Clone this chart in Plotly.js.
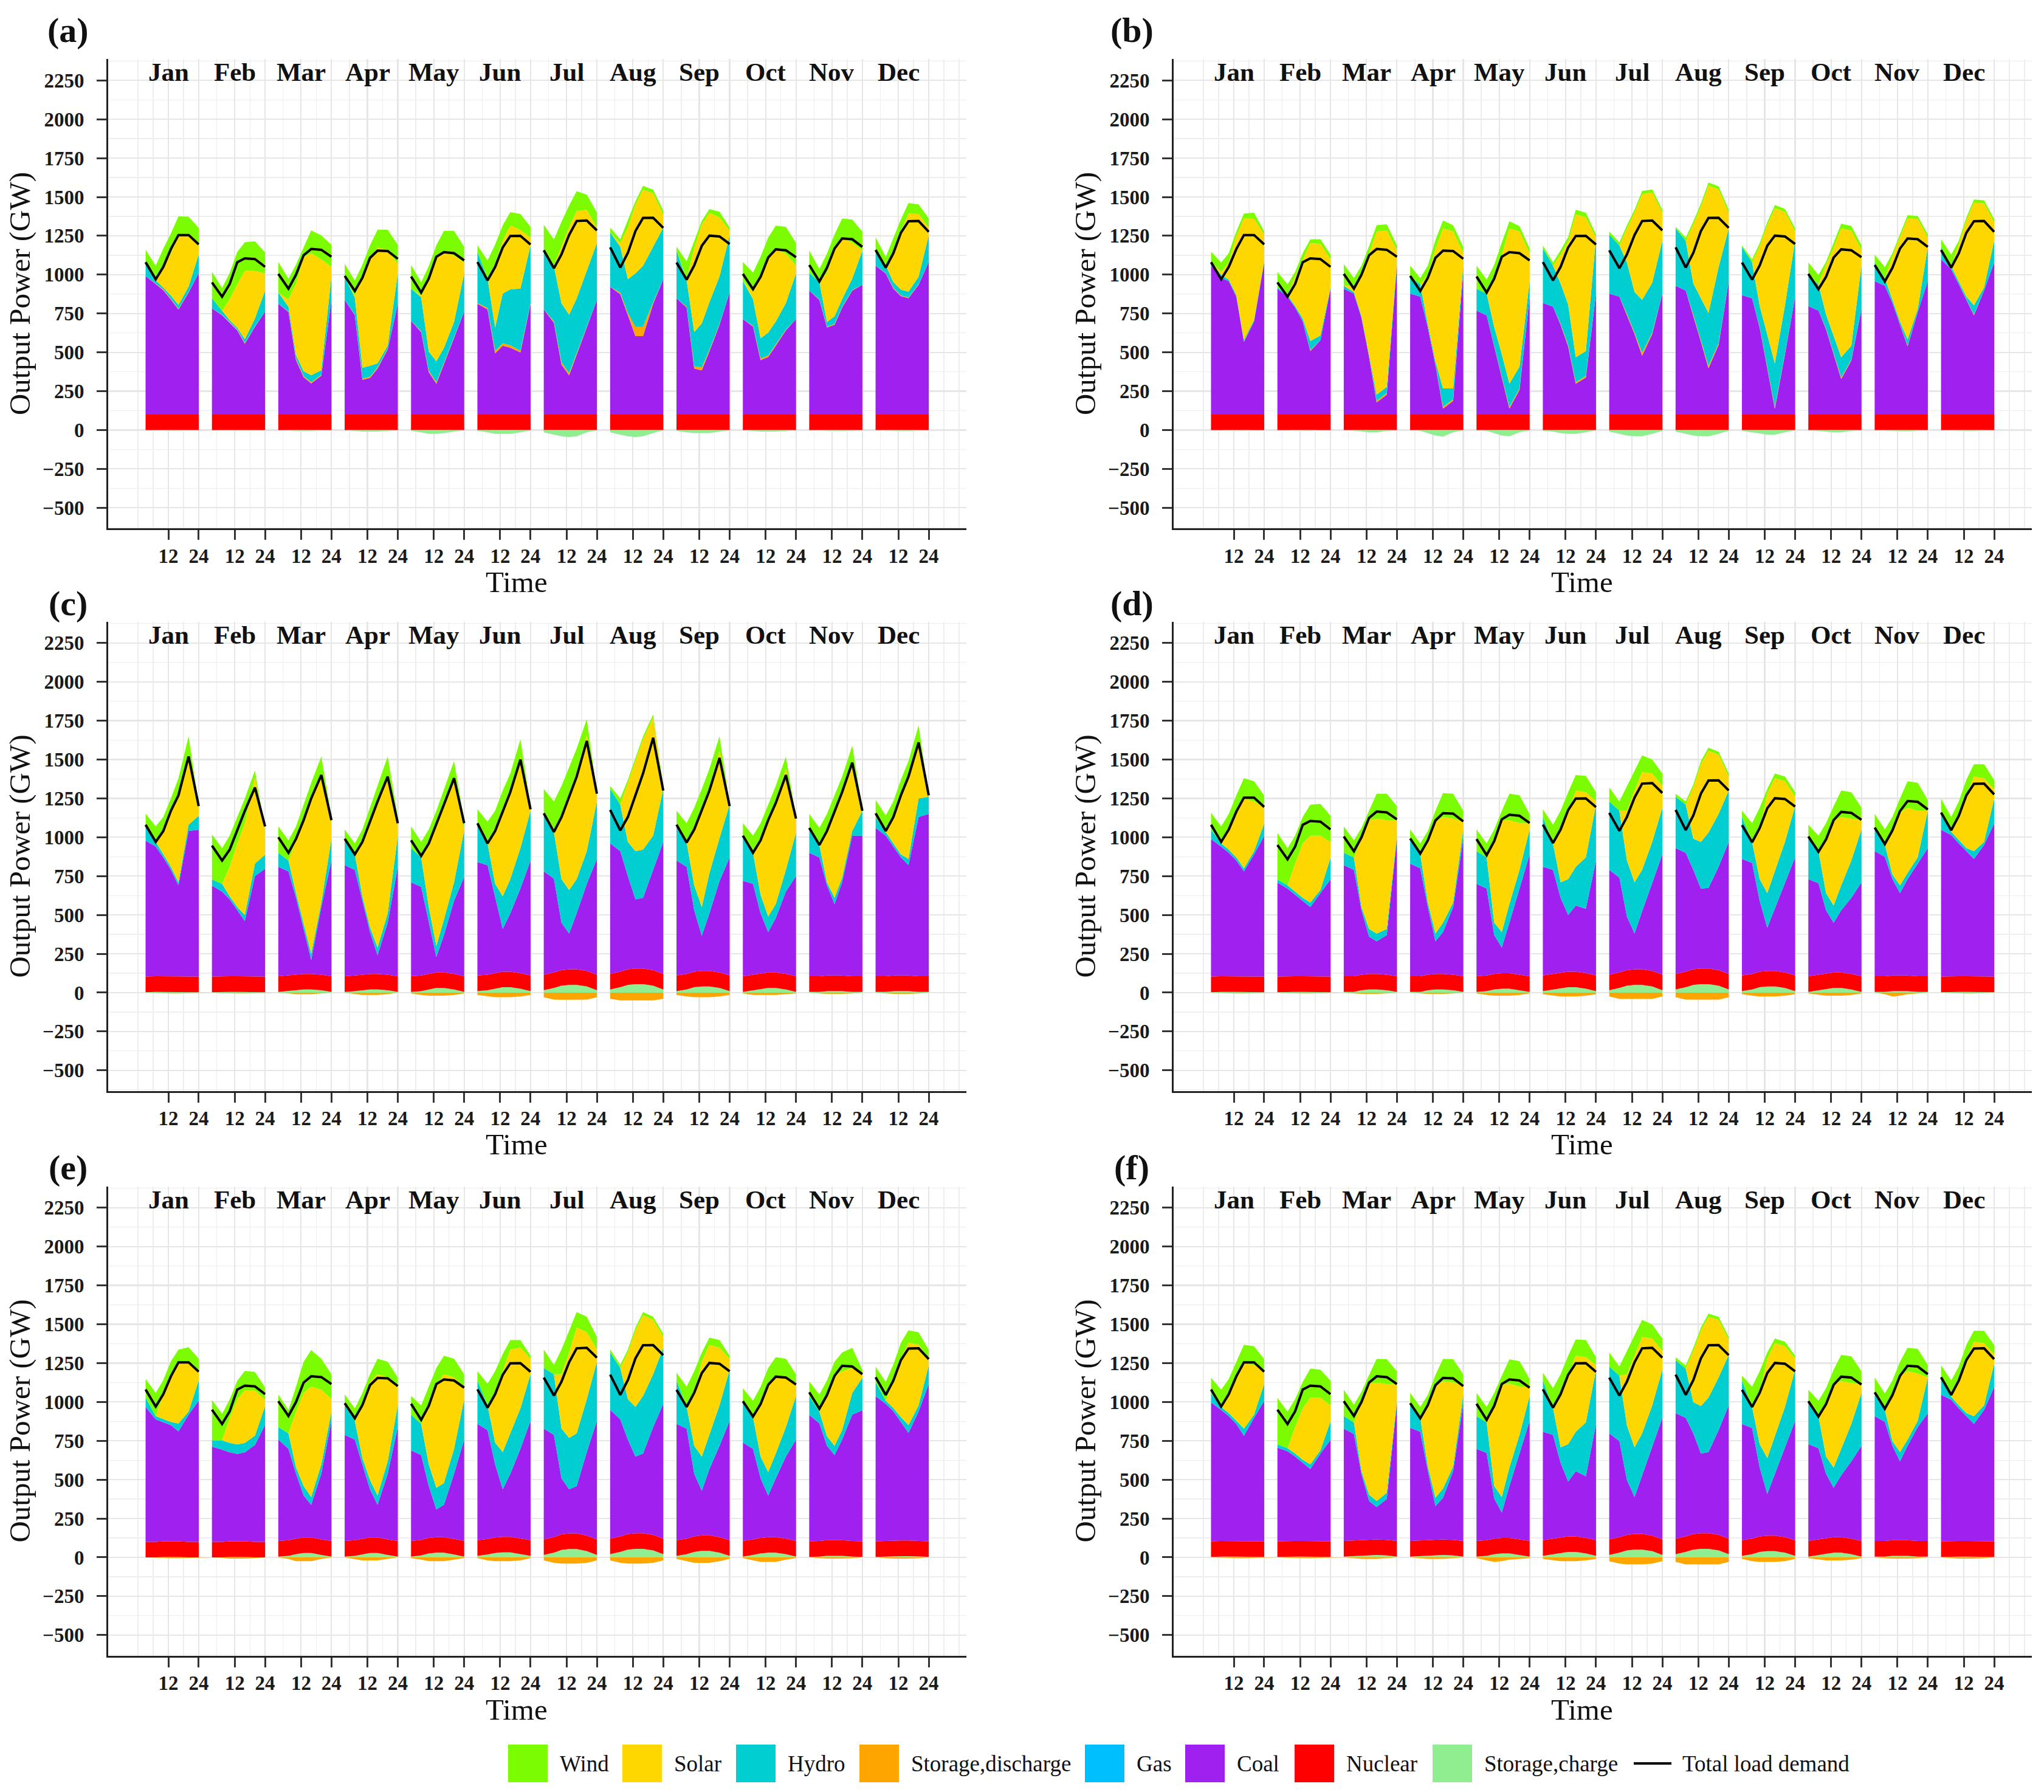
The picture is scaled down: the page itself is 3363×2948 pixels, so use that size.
<!DOCTYPE html>
<html>
<head>
<meta charset="utf-8">
<script src="https://cdn.plot.ly/plotly-3.0.1.min.js"></script>
<style>html,body{margin:0;padding:0;background:#fff;}#chart{width:3363px;height:2948px;}</style>
</head>
<body>
<div id="chart"></div>
<script>
// ---------------- DATA (GW), sampled hours of a typical day per month ----------------
const MONTHS = ['Jan','Feb','Mar','Apr','May','Jun','Jul','Aug','Sep','Oct','Nov','Dec'];
const HOURS = [3, 7, 10, 13, 16, 20, 24];
const PANEL_LABELS = ['(a)','(b)','(c)','(d)','(e)','(f)'];

// Total load demand (same demand in a, b, d, e, f; scenario c has a peakier demand)
const loadStd = [
[1080,970,1050,1165,1255,1255,1195],[950,858,940,1080,1105,1100,1050],[1005,910,1000,1125,1165,1160,1115],
[992,895,980,1108,1155,1152,1102],[988,885,975,1115,1145,1138,1092],[1081,963,1050,1175,1249,1250,1194],
[1157,1041,1131,1255,1345,1348,1285],[1176,1046,1140,1281,1365,1366,1301],[1078,968,1059,1186,1251,1246,1197],
[1005,906,986,1110,1163,1157,1112],[1062,956,1044,1168,1233,1228,1179],[1159,1045,1137,1270,1344,1345,1276]];
const loadC = [
[1080,970,1040,1170,1270,1520,1200],[946,850,920,1050,1170,1320,1070],[1000,900,990,1110,1250,1400,1110],
[990,890,970,1100,1230,1390,1090],[980,880,960,1090,1210,1380,1090],[1090,960,1040,1170,1290,1500,1180],
[1154,1034,1130,1260,1390,1620,1280],[1176,1044,1130,1270,1410,1640,1300],[1080,966,1050,1170,1300,1510,1200],
[1010,900,980,1110,1220,1400,1120],[1060,950,1040,1170,1290,1480,1170],[1154,1040,1130,1270,1390,1610,1270]];

// Nuclear (flat over the day) and gas (not visible) per month
const nuclearA = [100,100,100,100,100,100,100,100,100,100,100,100];
const nuclearB = [100,100,100,100,100,100,100,100,100,100,100,100];
const nuclearC = [100,100,100,100,100,100,100,100,100,100,100,100];
const nuclearD = [100,100,100,100,100,100,100,100,100,100,100,100];
const nuclearE = [100,100,100,100,100,100,100,100,100,100,100,100];
const nuclearF = [100,100,100,100,100,100,100,100,100,100,100,100];
const gasMonthly = [0,0,0,0,0,0,0,0,0,0,0,0];

// ---- panel (a)
const coalA = [
[890,840,800,740,675,785,910],[683,639,590,541,455,565,663],[712,660,350,240,200,250,740],[737,640,223,235,296,419,712],
[602,530,272,198,321,492,663],[712,676,394,443,430,400,712],[676,590,321,252,385,561,737],[822,774,639,504,504,712,871],
[749,688,296,284,406,578,786],[614,566,350,370,443,541,614],[798,737,560,578,688,798,835],[957,908,810,761,749,835,982]];
const hydroA = [
[80,20,12,20,25,35,120],[66,24,12,12,25,50,135],[73,30,25,30,45,30,150],[147,110,70,70,25,20,196],
[208,220,122,135,98,98,245],[330,190,150,320,360,400,370],[391,355,379,375,352,359,367],[350,295,217,344,393,357,331],
[306,172,220,282,306,306,367],[245,171,130,147,147,171,294],[112,112,30,49,49,73,220],[86,49,37,37,37,49,171]];
const solarA = [
[0,15,140,270,450,330,60],[0,0,135,280,440,306,110],[0,47,460,736,785,712,60],[0,10,590,690,745,615,60],
[0,10,465,685,616,428,70],[0,0,413,341,412,377,50],[0,0,367,563,563,392,98],[0,24,331,441,490,343,85],
[0,10,539,636,575,379,30],[0,49,404,489,465,318,49],[0,0,318,428,391,233,0],[0,0,196,379,501,403,49]];
const windA = [
[90,80,110,130,120,120,110],[170,147,170,208,184,190,135],[196,134,122,61,147,156,142],[85,99,73,85,115,130,124],
[152,86,86,61,137,159,101],[42,115,122,98,85,103,70],[154,171,159,139,127,98,98],[30,25,49,24,24,25,25],
[24,110,49,24,25,37,20],[122,122,122,122,152,172,147],[145,84,122,98,128,147,122],[98,54,85,74,69,62,61]];
const chargeA = [
[0,-2,-3,-3,-3,-2,0],[0,-2,-3,-3,-3,-2,0],[0,-2,-5,-5,-5,-2,0],[0,-5,-10,-10,-10,-5,0],
[-5,-15,-25,-25,-20,-10,0],[-5,-15,-25,-25,-25,-15,0],[-15,-30,-40,-45,-40,-15,0],[-15,-30,-40,-45,-40,-20,0],
[-5,-15,-20,-20,-20,-10,0],[0,-5,-10,-10,-10,-5,0],[0,-3,-5,-5,-5,-3,0],[0,-3,-5,-5,-5,-3,0]];
const dischargeA = [
[0,3,5,5,5,3,0],[0,3,5,5,5,3,0],[0,3,8,8,8,5,0],[0,3,8,8,8,5,0],
[0,5,10,10,10,5,0],[5,10,15,15,15,10,5],[0,10,15,15,10,5,0],[0,10,15,60,60,10,0],
[0,5,15,20,10,5,0],[0,5,10,10,8,5,0],[0,3,5,5,5,3,0],[0,3,5,5,5,3,0]];

// ---- panel (b)
const coalB = [
[958,878,858,758,468,598,978],[808,758,688,598,408,478,808],[808,778,622,370,78,128,958],[778,758,558,318,38,88,918],
[668,638,438,238,38,158,758],[718,694,578,438,198,238,778],[778,758,638,518,378,518,778],[828,798,638,468,298,448,858],
[768,748,558,298,38,388,758],[698,668,548,388,228,348,678],[858,828,718,578,438,658,858],[998,934,838,738,638,798,978]];
const hydroB = [
[24,20,10,10,10,10,10],[10,10,10,20,60,30,10],[20,10,10,10,40,40,20],[110,80,20,20,120,70,40],
[140,140,120,140,150,140,100],[350,264,260,260,160,160,360],[380,330,330,260,340,320,340],[370,320,200,270,340,490,340],
[310,230,136,210,280,310,360],[200,170,90,110,130,90,280],[120,50,20,20,40,20,220],[80,20,20,20,60,20,140]];
const solarB = [
[0,20,110,380,780,650,170],[0,0,190,380,630,590,180],[0,40,286,648,1050,1006,80],[0,0,320,720,1030,1010,80],
[0,0,330,640,1000,870,180],[0,0,184,404,920,860,0],[0,0,220,510,680,580,180],[0,0,380,590,820,500,100],
[0,0,384,700,1000,600,60],[0,0,320,570,830,740,100],[0,0,280,540,780,580,60],[0,0,240,490,660,540,120]];
const windB = [
[66,60,60,30,30,40,20],[100,70,30,40,24,30,30],[140,50,40,50,40,40,30],[70,40,60,60,50,40,40],
[150,90,70,80,46,34,30],[20,20,30,30,30,30,20],[20,20,20,20,20,20,20],[10,20,20,20,20,20,20],
[10,20,20,20,20,20,20],[80,60,20,30,30,30,30],[50,70,20,20,20,20,20],[50,74,20,20,20,20,20]];
const chargeB = [
[0,0,-3,-3,-3,0,0],[0,0,-3,-3,-3,0,0],[0,-3,-10,-15,-15,-5,0],[0,-5,-20,-35,-42,-15,0],
[0,-5,-20,-35,-40,-15,0],[-5,-10,-20,-25,-25,-15,0],[-10,-25,-35,-40,-40,-25,-5],[-10,-25,-35,-40,-40,-25,-5],
[-5,-15,-25,-30,-30,-15,0],[0,-5,-10,-15,-15,-5,0],[0,-3,-5,-8,-8,-3,0],[0,-3,-5,-5,-5,-3,0]];
const dischargeB = [
[0,0,0,0,5,0,0],[0,0,0,0,5,0,0],[0,0,0,5,10,10,0],[0,0,0,5,10,10,0],
[0,0,5,10,10,10,0],[0,0,5,10,10,10,0],[0,0,10,10,20,10,0],[0,0,5,10,15,10,0],
[0,0,5,10,10,5,0],[0,0,5,5,10,5,0],[0,0,0,0,5,0,0],[0,0,0,0,5,0,0]];

// ---- panel (c)
const coalC = [
[875,835,765,685,585,935,945],[585,545,495,425,355,645,695],[705,670,495,290,90,435,745],[715,680,475,270,120,335,705],
[605,570,330,100,240,470,640],[730,705,485,275,375,545,740],[665,604,305,230,360,560,745],[840,775,600,445,455,645,850],
[740,690,395,226,370,588,760],[615,585,385,260,350,530,645],[795,765,580,460,600,905,905],[955,905,830,760,710,1025,1045]];
const hydroC = [
[100,30,20,20,20,40,90],[40,50,20,20,40,80,90],[90,70,30,30,40,30,140],[160,100,30,30,50,60,200],
[220,190,100,70,100,120,300],[250,140,90,210,220,260,320],[374,300,280,280,220,210,370],[350,300,220,310,310,220,340],
[230,156,160,184,258,276,340],[290,200,120,100,90,140,280],[150,80,20,40,30,30,160],[70,20,20,20,40,120,110]];
const solarC = [
[0,0,150,360,570,430,50],[0,0,190,410,590,560,150],[0,0,340,670,1000,820,100],[0,0,350,680,940,880,80],
[0,0,410,790,730,650,0],[0,0,360,570,580,590,10],[0,0,400,610,690,750,40],[0,0,380,580,710,760,0],
[0,0,360,640,552,566,0],[0,0,350,620,670,650,90],[0,0,330,560,550,440,0],[0,0,170,380,530,360,0]];
const windC = [
[74,100,90,80,100,140,20],[290,230,200,170,160,40,10],[170,130,90,100,100,120,40],[70,70,80,90,100,130,40],
[140,100,90,80,110,130,60],[90,140,110,110,100,110,20],[156,196,200,180,150,100,20],[20,40,20,20,20,20,20],
[90,124,140,120,120,90,10],[80,110,110,100,90,80,10],[100,110,110,100,100,110,10],[110,110,100,100,100,110,10]];
const chargeC = [
[3,5,5,5,5,5,3],[3,5,5,5,5,5,3],[5,10,15,20,20,15,5],[5,10,15,20,20,15,5],
[5,10,20,30,30,20,5],[10,15,25,35,35,25,10],[15,30,45,50,50,40,15],[20,35,50,55,55,45,20],
[10,20,35,40,40,30,10],[5,15,25,30,30,20,5],[5,5,10,10,10,5,5],[5,5,10,10,10,5,5]];
const dischargeC = [
[0,-3,-5,-5,-5,-3,0],[0,-3,-5,-5,-5,-3,0],[0,-5,-10,-10,-10,-5,0],[0,-10,-15,-15,-15,-10,0],
[-5,-15,-20,-20,-20,-15,-5],[-15,-25,-30,-30,-30,-25,-15],[-30,-45,-46,-46,-46,-45,-30],[-40,-50,-50,-50,-50,-50,-40],
[-15,-25,-30,-30,-30,-25,-15],[-5,-15,-15,-15,-15,-10,-5],[0,-5,-8,-8,-8,-5,0],[0,-5,-8,-8,-8,-5,0]];

// ---- panel (d)
const coalD = [
[885,835,795,745,675,785,905],[605,565,525,485,445,535,625],[715,685,415,240,210,255,885],[725,695,435,210,270,435,885],
[595,560,250,165,325,555,785],[700,670,480,365,425,415,740],[675,610,345,230,374,566,775],[810,765,640,515,519,665,850],
[750,714,455,278,404,576,760],[625,589,405,320,400,490,605],[805,769,620,530,620,725,825],[945,909,855,805,755,845,985]];
const hydroD = [
[60,20,20,20,20,20,80],[20,20,20,20,30,20,140],[80,80,20,50,50,40,20],[150,90,30,50,60,30,60],
[210,200,80,100,120,120,160],[320,170,100,230,250,330,360],[440,430,360,330,266,264,300],[330,310,200,300,356,340,330],
[270,136,140,222,236,264,330],[260,206,110,110,160,240,340],[140,80,30,50,40,40,240],[100,20,20,20,50,20,160]];
const solarD = [
[0,0,120,290,450,320,100],[0,0,180,350,430,350,100],[0,0,440,700,740,700,100],[0,0,394,720,680,540,50],
[0,0,520,716,540,300,40],[0,0,330,430,490,420,20],[0,0,320,590,630,440,140],[0,0,330,500,526,380,90],
[0,0,320,640,600,390,60],[0,0,340,546,440,270,60],[0,0,280,470,420,300,0],[0,0,150,340,480,410,60]];
const windD = [
[110,110,110,110,130,130,80],[300,240,180,170,200,204,170],[170,110,70,60,160,170,90],[70,70,66,70,154,160,70],
[140,90,80,64,170,180,60],[50,120,130,130,100,104,60],[90,60,160,130,106,90,80],[20,20,20,20,20,20,20],
[40,120,140,30,30,30,30],[90,100,110,94,170,170,80],[100,96,90,90,170,180,70],[100,96,100,100,80,90,60]];
const chargeD = [
[3,5,5,5,5,5,3],[3,5,5,5,5,5,3],[5,5,15,20,20,15,5],[5,5,15,20,20,15,5],
[5,10,20,25,25,15,5],[10,20,30,35,35,25,10],[15,30,45,50,50,40,15],[20,35,50,55,55,45,20],
[10,20,35,40,40,30,10],[5,15,25,30,30,20,5],[5,5,10,10,10,5,5],[3,5,5,5,5,5,3]];
const dischargeD = [
[0,-3,-5,-5,-5,-3,0],[0,-3,-5,-5,-5,-3,0],[0,-5,-8,-8,-8,-5,0],[0,-5,-8,-8,-8,-5,0],
[-5,-15,-20,-20,-20,-15,-5],[-10,-20,-25,-25,-25,-20,-10],[-25,-40,-40,-40,-40,-40,-25],[-30,-45,-45,-45,-45,-45,-30],
[-10,-20,-25,-25,-25,-20,-10],[-5,-15,-20,-20,-20,-15,-5],[0,-10,-25,-20,-10,-5,0],[0,-3,-5,-5,-5,-3,0]];

// ---- panel (e)
const coalE = [
[868,788,768,748,708,818,908],[613,593,573,563,573,623,753],[653,588,418,270,210,423,773],[683,648,478,310,210,423,733],
[583,546,333,178,208,420,653],[748,700,470,306,406,576,768],[713,658,360,284,304,538,763],[828,753,608,493,513,693,868],
[748,708,403,286,426,588,768],[633,583,383,268,378,528,653],[813,757,608,548,648,813,843],[933,883,833,763,693,833,1013]];
const hydroE = [
[60,20,20,20,50,20,130],[40,60,60,60,60,60,120],[80,100,40,60,50,60,60],[190,120,40,60,60,80,140],
[230,200,140,140,140,160,260],[280,160,140,240,260,260,300],[390,390,320,330,340,340,380],[370,330,260,320,370,340,360],
[280,140,180,220,220,260,330],[264,204,140,150,160,190,280],[120,76,60,60,60,140,210],[90,20,20,30,50,40,120]];
const solarE = [
[0,0,160,310,400,310,60],[0,0,160,290,340,290,40],[0,0,360,600,710,480,80],[0,0,330,630,780,540,124],
[0,0,380,660,700,460,76],[0,0,310,520,540,390,100],[0,0,350,550,680,430,80],[0,0,300,490,520,350,70],
[0,0,340,610,580,370,70],[0,0,330,566,494,320,76],[0,0,260,450,380,160,20],[0,0,180,380,530,390,40]];
const windE = [
[120,150,90,80,76,104,80],[260,170,120,120,124,120,80],[210,150,160,200,236,200,160],[70,80,90,50,100,100,56],
[120,120,120,110,120,120,84],[60,140,150,110,60,50,20],[120,60,160,140,100,100,80],[20,20,20,20,20,20,20],
[50,130,140,60,46,50,20],[86,106,120,104,126,120,64],[96,110,100,90,120,130,30],[100,120,100,100,80,80,60]];
const chargeE = [
[0,0,3,3,3,0,0],[0,0,3,3,3,0,0],[5,10,20,28,28,15,5],[5,10,20,28,28,15,5],
[5,12,25,30,30,18,5],[10,18,28,32,32,22,10],[15,30,48,54,54,40,15],[20,35,50,55,55,45,20],
[10,20,35,42,42,30,10],[5,15,25,30,30,20,5],[3,5,10,10,10,5,3],[3,5,8,8,8,5,3]];
const dischargeE = [
[0,-3,-5,-5,-5,-3,0],[0,-3,-8,-8,-8,-5,0],[0,-10,-25,-25,-25,-10,0],[0,-10,-20,-20,-20,-10,0],
[-5,-15,-25,-25,-25,-15,-5],[-5,-20,-25,-25,-25,-20,-5],[-20,-35,-40,-40,-40,-35,-20],[-20,-35,-40,-40,-40,-35,-20],
[-10,-25,-35,-35,-35,-25,-10],[-5,-20,-30,-30,-30,-15,-5],[0,-5,-8,-8,-8,-5,0],[0,-5,-8,-8,-8,-5,0]];

// ---- panel (f)
const coalF = [
[893,843,803,753,677,793,903],[603,577,543,503,463,563,653],[723,686,423,248,208,263,883],[729,700,443,214,268,443,883],
[593,562,258,163,333,553,773],[698,668,478,353,419,397,748],[683,618,353,238,378,574,783],[808,763,648,513,523,673,858],
[748,712,443,268,398,578,768],[623,587,413,318,398,498,613],[803,767,608,508,608,733,823],[943,909,853,803,753,843,993]];
const hydroF = [
[60,20,20,20,46,20,110],[20,20,20,20,30,20,120],[80,74,20,40,40,40,20],[144,90,30,54,60,30,60],
[210,196,80,100,120,120,160],[330,174,100,240,254,346,350],[430,420,350,320,270,264,310],[340,316,200,306,350,340,324],
[280,136,150,230,240,260,330],[270,206,110,130,170,240,340],[140,76,30,60,40,40,230],[100,20,20,20,50,30,150]];
const solarF = [
[0,0,120,290,420,320,80],[0,0,170,330,430,340,100],[0,0,440,714,760,700,110],[0,0,390,720,690,540,58],
[0,0,520,726,540,310,56],[0,0,340,440,490,420,30],[0,0,330,590,620,430,120],[0,0,330,484,520,370,96],
[0,0,330,640,600,390,70],[0,0,340,536,436,264,56],[0,0,300,490,440,304,0],[0,0,160,350,480,400,60]];
const windF = [
[100,110,100,90,120,120,80],[300,236,180,170,186,180,160],[170,114,70,56,154,160,80],[80,70,70,70,144,150,72],
[150,100,80,54,156,164,54],[50,126,130,130,104,110,50],[90,60,150,130,110,90,80],[20,20,20,20,20,20,20],
[30,130,140,40,30,30,20],[80,100,100,94,168,172,84],[110,106,90,90,150,160,80],[90,104,90,90,70,80,60]];
const chargeF = [
[3,5,5,5,5,5,3],[3,5,5,5,5,5,3],[5,8,12,15,15,12,5],[5,8,12,15,15,12,5],
[5,10,20,25,25,15,5],[10,20,30,35,35,25,10],[15,30,45,50,50,40,15],[20,35,50,55,55,45,20],
[10,20,35,40,40,30,10],[5,15,25,30,30,20,5],[5,5,10,10,10,5,5],[3,5,5,5,5,5,3]];
const dischargeF = [
[0,-3,-5,-5,-5,-3,0],[0,-3,-5,-5,-5,-3,0],[0,-5,-10,-10,-10,-5,0],[0,-5,-10,-10,-10,-5,0],
[-5,-20,-30,-25,-15,-10,-5],[-10,-20,-25,-25,-25,-20,-10],[-25,-40,-45,-45,-45,-40,-25],[-30,-45,-45,-45,-45,-45,-30],
[-10,-25,-30,-30,-30,-25,-10],[-5,-15,-20,-20,-20,-15,-5],[0,-5,-8,-8,-8,-5,0],[0,-5,-8,-8,-8,-5,0]];

// ---------------- STYLE / LAYOUT ----------------
const W = 3363, H = 2948;
const FONT = 'Liberation Serif, Times New Roman, serif';
const STEP = 26.25;   // x distance between month blocks (hours incl. gap)
const EPS = 0.02;
const COLORS = {wind:'#7CFC00', solar:'#FFD700', hydro:'#00CED1', discharge:'#FFA500',
                gas:'#00BFFF', coal:'#A020F0', nuclear:'#FF0000', charge:'#90EE90', load:'#000000'};
const NAMES = {wind:'Wind', solar:'Solar', hydro:'Hydro', discharge:'Storage,discharge', gas:'Gas',
               coal:'Coal', nuclear:'Nuclear', charge:'Storage,charge', load:'Total load demand'};

const panels = [
  {load: loadStd, nuclear: nuclearA, coal: coalA, hydro: hydroA, solar: solarA, wind: windA, charge: chargeA, discharge: dischargeA},
  {load: loadStd, nuclear: nuclearB, coal: coalB, hydro: hydroB, solar: solarB, wind: windB, charge: chargeB, discharge: dischargeB},
  {load: loadC,   nuclear: nuclearC, coal: coalC, hydro: hydroC, solar: solarC, wind: windC, charge: chargeC, discharge: dischargeC},
  {load: loadStd, nuclear: nuclearD, coal: coalD, hydro: hydroD, solar: solarD, wind: windD, charge: chargeD, discharge: dischargeD},
  {load: loadStd, nuclear: nuclearE, coal: coalE, hydro: hydroE, solar: solarE, wind: windE, charge: chargeE, discharge: dischargeE},
  {load: loadStd, nuclear: nuclearF, coal: coalF, hydro: hydroF, solar: solarF, wind: windF, charge: chargeF, discharge: dischargeF}
];

const COLS = [[178, 1590], [1931, 3343]];
const ROWS = [[97, 869], [1022.5, 1794.5], [1951.5, 2723.5]];
const LABEL_Y = [50, 992, 1921];
const LABEL_X = [112, 1862];
const TIME_Y = [957, 1882.5, 2812];
const TIME_SHIFT = -34;
const XRANGE = [-11.8, 327.65];
const YRANGE = [-632, 2388];

const px = x => x / W;
const py = y => 1 - y / H;

// x positions of the sampled points, with zero-valued points just outside each month block
const blockXs = [];
MONTHS.forEach((m, i) => {
  const o = i * STEP;
  blockXs.push(o + HOURS[0] - EPS);
  HOURS.forEach(h => blockXs.push(o + h));
  blockXs.push(o + 24 + EPS);
});
function blockYs(rows, fn) {
  const out = [];
  rows.forEach(r => { out.push(0); r.forEach(v => out.push(fn(v))); out.push(0); });
  return out;
}
const expandMonthly = arr => arr.map(v => HOURS.map(() => v));
const pos = v => Math.max(v, 0);
const neg = v => Math.min(v, 0);
const ident = v => v;

const loadXs = [];
MONTHS.forEach((m, i) => { HOURS.forEach(h => loadXs.push(i * STEP + h)); loadXs.push(null); });
function loadYs(rows) { const out = []; rows.forEach(r => { r.forEach(v => out.push(v)); out.push(null); }); return out; }

const tickvals = [], ticktext = [];
MONTHS.forEach((m, i) => { tickvals.push(i * STEP + 12, i * STEP + 24); ticktext.push('12', '24'); });
const minorX = [0, 6];
for (let i = 0; i < tickvals.length - 1; i++) minorX.push((tickvals[i] + tickvals[i + 1]) / 2);
minorX.push(tickvals[tickvals.length - 1] + 6, tickvals[tickvals.length - 1] + 12);
const minorY = [];
for (let v = -625; v <= 2375; v += 250) minorY.push(v);

const traces = [];
const layout = {
  width: W, height: H,
  margin: {l: 0, r: 0, t: 0, b: 0},
  paper_bgcolor: '#ffffff', plot_bgcolor: '#ffffff',
  showlegend: false, hovermode: false,
  font: {family: FONT, color: '#111'},
  annotations: [], shapes: []
};

panels.forEach((p, idx) => {
  const k = idx + 1;
  const xa = 'x' + (k === 1 ? '' : k), ya = 'y' + (k === 1 ? '' : k);
  const col = COLS[idx % 2], row = ROWS[Math.floor(idx / 2)];
  const sgPos = 'pos' + k, sgNeg = 'neg' + k;
  const area = (key, rows, fn, sg) => traces.push({
    type: 'scatter', mode: 'lines', name: NAMES[key], x: blockXs, y: blockYs(rows, fn),
    xaxis: xa, yaxis: ya, stackgroup: sg, fillcolor: COLORS[key],
    line: {width: 0, color: COLORS[key]}, hoverinfo: 'skip', showlegend: false
  });
  // positive stack, bottom -> top
  area('charge', p.charge, pos, sgPos);
  area('nuclear', expandMonthly(p.nuclear), ident, sgPos);
  area('coal', p.coal, ident, sgPos);
  area('gas', expandMonthly(gasMonthly), ident, sgPos);
  area('discharge', p.discharge, pos, sgPos);
  area('hydro', p.hydro, ident, sgPos);
  area('solar', p.solar, ident, sgPos);
  area('wind', p.wind, ident, sgPos);
  // negative stack
  area('charge', p.charge, neg, sgNeg);
  area('discharge', p.discharge, neg, sgNeg);
  // load line
  traces.push({type: 'scatter', mode: 'lines', name: NAMES.load, x: loadXs, y: loadYs(p.load),
    xaxis: xa, yaxis: ya, line: {color: COLORS.load, width: 4}, connectgaps: false,
    hoverinfo: 'skip', showlegend: false});

  layout['xaxis' + (k === 1 ? '' : k)] = {
    domain: [px(col[0]), px(col[1])], anchor: ya, range: XRANGE, fixedrange: true,
    tickmode: 'array', tickvals: tickvals, ticktext: ticktext,
    ticks: 'outside', ticklen: 16, tickwidth: 3, tickcolor: '#333', ticklabelstandoff: -2,
    tickfont: {family: FONT, size: 33, color: '#1a1a1a', weight: 'bold'},
    showline: true, linecolor: '#222', linewidth: 3, mirror: false, zeroline: false,
    showgrid: true, gridcolor: '#E6E6E6', gridwidth: 2.2,
    minor: {tickmode: 'array', tickvals: minorX, showgrid: true, gridcolor: '#EEEEEE', gridwidth: 1.3, ticks: ''},
    automargin: false
  };
  layout['yaxis' + (k === 1 ? '' : k)] = {
    domain: [py(row[1]), py(row[0])], anchor: xa, range: YRANGE, fixedrange: true,
    tickmode: 'linear', tick0: 0, dtick: 250,
    ticks: 'outside', ticklen: 16, tickwidth: 3, tickcolor: '#333', ticklabelstandoff: 14,
    tickfont: {family: FONT, size: 33, color: '#1a1a1a', weight: 'bold'},
    showline: true, linecolor: '#222', linewidth: 3, mirror: false, zeroline: false,
    showgrid: true, gridcolor: '#E6E6E6', gridwidth: 2.2,
    minor: {tickmode: 'array', tickvals: minorY, showgrid: true, gridcolor: '#EEEEEE', gridwidth: 1.3, ticks: ''},
    title: {text: 'Output Power (GW)', font: {family: FONT, size: 49, color: '#111'}, standoff: 5},
    automargin: false
  };
  // x-axis title "Time" (placed as in the original, slightly left of the panel centre)
  layout.annotations.push({
    xref: 'paper', yref: 'paper', x: px((col[0] + col[1]) / 2 + TIME_SHIFT), y: py(TIME_Y[Math.floor(idx / 2)]),
    text: 'Time', showarrow: false, xanchor: 'center', yanchor: 'middle',
    font: {family: FONT, size: 49, color: '#111'}
  });
  // month labels inside the plot
  MONTHS.forEach((m, i) => layout.annotations.push({
    xref: xa, yref: ya, x: i * STEP + 12, y: 2302, text: '<b>' + m + '</b>', showarrow: false,
    xanchor: 'center', yanchor: 'middle', font: {family: FONT, size: 43, color: '#111'}
  }));
  // panel label
  layout.annotations.push({
    xref: 'paper', yref: 'paper', x: px(LABEL_X[idx % 2]), y: py(LABEL_Y[Math.floor(idx / 2)]),
    text: '<b>' + PANEL_LABELS[idx] + '</b>', showarrow: false, xanchor: 'center', yanchor: 'middle',
    font: {family: FONT, size: 58, color: '#111'}
  });
});

// ---------------- custom legend (bottom) ----------------
const LEGEND_ITEMS = [['wind', 836], ['solar', 1024], ['hydro', 1211], ['discharge', 1414],
                      ['gas', 1785], ['coal', 1950], ['nuclear', 2130], ['charge', 2357]];
const LEG_Y0 = 2870, LEG_Y1 = 2932, LEG_YC = 2901, SW = 65;
LEGEND_ITEMS.forEach(([key, x0]) => {
  layout.shapes.push({type: 'rect', xref: 'paper', yref: 'paper', x0: px(x0), x1: px(x0 + SW),
    y0: py(LEG_Y1), y1: py(LEG_Y0), fillcolor: COLORS[key], line: {width: 0}});
  layout.annotations.push({xref: 'paper', yref: 'paper', x: px(x0 + SW + 18), y: py(LEG_YC), text: NAMES[key],
    showarrow: false, xanchor: 'left', yanchor: 'middle', font: {family: FONT, size: 37, color: '#111'}});
});
layout.shapes.push({type: 'line', xref: 'paper', yref: 'paper', x0: px(2688), x1: px(2750), y0: py(LEG_YC), y1: py(LEG_YC),
  line: {color: COLORS.load, width: 4}});
layout.annotations.push({xref: 'paper', yref: 'paper', x: px(2766), y: py(LEG_YC), text: NAMES.load,
  showarrow: false, xanchor: 'left', yanchor: 'middle', font: {family: FONT, size: 37, color: '#111'}});

Plotly.newPlot('chart', traces, layout, {staticPlot: true, displayModeBar: false});
</script>
</body>
</html>
